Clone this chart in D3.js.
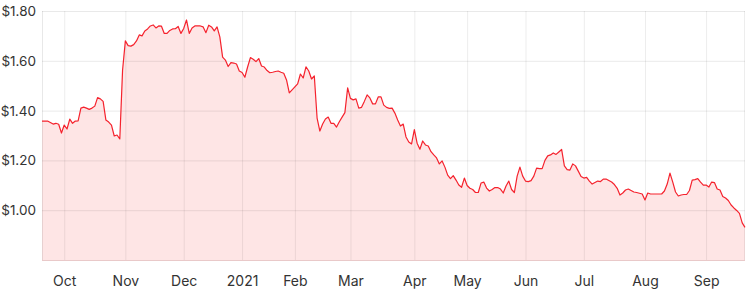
<!DOCTYPE html>
<html>
<head>
<meta charset="utf-8">
<script src="https://cdn.jsdelivr.net/npm/d3@7"></script>
<style>
  html, body { margin: 0; padding: 0; background: #fff; }
  svg { display: block; }
  text { font-family: Inter, "Open Sans", sans-serif; }
</style>
</head>
<body>
<svg id="chart" width="751" height="291"></svg>
<script>
// Daily closing prices (one per trading day, Sep 2020 – Sep 2021)
const prices = [
  1.358,1.358,1.358,1.352,1.346,1.349,1.345,1.310,1.342,1.326,
  1.366,1.349,1.358,1.359,1.410,1.414,1.410,1.405,1.410,1.418,
  1.452,1.447,1.437,1.362,1.354,1.342,1.298,1.302,1.286,1.563,
  1.680,1.661,1.659,1.665,1.680,1.704,1.700,1.720,1.728,1.740,
  1.744,1.732,1.740,1.739,1.710,1.710,1.722,1.728,1.729,1.738,
  1.710,1.730,1.764,1.710,1.732,1.740,1.740,1.740,1.736,1.713,
  1.743,1.736,1.720,1.736,1.696,1.615,1.603,1.577,1.593,1.591,
  1.587,1.559,1.553,1.534,1.575,1.613,1.606,1.597,1.609,1.579,
  1.575,1.561,1.552,1.554,1.557,1.559,1.554,1.550,1.523,1.471,
  1.483,1.495,1.507,1.547,1.531,1.576,1.559,1.527,1.539,1.370,
  1.318,1.346,1.366,1.374,1.349,1.349,1.334,1.355,1.374,1.392,
  1.491,1.449,1.443,1.447,1.410,1.413,1.437,1.463,1.451,1.427,
  1.427,1.455,1.455,1.422,1.413,1.409,1.410,1.390,1.362,1.338,
  1.346,1.294,1.274,1.266,1.324,1.269,1.245,1.278,1.262,1.258,
  1.235,1.222,1.210,1.186,1.198,1.173,1.141,1.127,1.139,1.121,
  1.101,1.092,1.129,1.099,1.088,1.083,1.071,1.071,1.109,1.113,
  1.089,1.077,1.083,1.091,1.091,1.085,1.069,1.097,1.117,1.083,
  1.071,1.137,1.173,1.137,1.117,1.115,1.119,1.137,1.169,1.167,
  1.167,1.200,1.218,1.222,1.230,1.224,1.234,1.244,1.178,1.163,
  1.161,1.186,1.178,1.157,1.135,1.129,1.132,1.117,1.105,1.111,
  1.117,1.115,1.125,1.125,1.119,1.113,1.103,1.088,1.061,1.069,
  1.081,1.085,1.079,1.073,1.071,1.068,1.065,1.041,1.069,1.065,
  1.065,1.065,1.065,1.065,1.077,1.105,1.149,1.113,1.073,1.057,
  1.061,1.063,1.063,1.079,1.121,1.123,1.127,1.113,1.101,1.101,
  1.093,1.113,1.111,1.085,1.081,1.055,1.049,1.039,1.021,1.009,
  0.999,0.987,0.949,0.931
];

// Month tick labels and the trading-day index where each month starts
const monthLabels = ["Oct","Nov","Dec","2021","Feb","Mar","Apr","May","Jun","Jul","Aug","Sep"];
const monthStartIdx = [8, 30, 51, 72, 91, 111, 134, 153, 174, 195, 217, 239];

// Price axis ticks
const priceTicks = [1.0, 1.2, 1.4, 1.6, 1.8];
const priceDomain = [0.8, 1.8];

const svg = d3.select("#chart");
const mLeft = 42, mRight = 745, mTop = 11, mBottom = 260;

const x = d3.scaleLinear().domain([0, prices.length - 1]).range([mLeft, mRight]);
const y = d3.scaleLinear().domain(priceDomain).range([mBottom, mTop]);

const data = prices.map((v, i) => ({ i, v }));

// Area fill
svg.append("path")
  .datum(data)
  .attr("fill", "#fee5e5")
  .attr("d", d3.area().x(d => x(d.i)).y0(y(priceDomain[0])).y1(d => y(d.v)));

// Horizontal gridlines
const yAxis = d3.axisLeft(y).tickValues(priceTicks).tickSize(-(mRight - mLeft))
  .tickFormat(d => "$" + d.toFixed(2));
const gy = svg.append("g").attr("transform", `translate(${mLeft},0)`).call(yAxis);
gy.select(".domain").remove();
gy.selectAll(".tick line").attr("stroke", "rgba(0,0,0,0.085)").attr("stroke-width", 1);
gy.selectAll(".tick text")
  .attr("x", -6).attr("dy", "0.34em")
  .attr("fill", "#333").style("font-size", "13.5px");

// Vertical gridlines + month labels
const xAxis = d3.axisBottom(x).tickValues(monthStartIdx).tickSize(-(mBottom - mTop))
  .tickFormat((d, k) => monthLabels[k]);
const gx = svg.append("g").attr("transform", `translate(0,${mBottom})`).call(xAxis);
gx.select(".domain").remove();
gx.selectAll(".tick line").attr("stroke", "rgba(0,0,0,0.075)").attr("stroke-width", 1);
gx.selectAll(".tick text")
  .attr("y", 16).attr("dy", "0.71em")
  .attr("fill", "#333").style("font-size", "14px");

// Frame lines: left, right, bottom
svg.append("line").attr("x1", mLeft + 0.5).attr("x2", mLeft + 0.5).attr("y1", mTop).attr("y2", mBottom)
  .attr("stroke", "rgba(0,0,0,0.09)");
svg.append("line").attr("x1", mRight - 0.5).attr("x2", mRight - 0.5).attr("y1", mTop).attr("y2", mBottom)
  .attr("stroke", "rgba(0,0,0,0.07)");
svg.append("line").attr("x1", mLeft).attr("x2", mRight).attr("y1", mBottom + 0.5).attr("y2", mBottom + 0.5)
  .attr("stroke", "#e9c9c9");

// Price line
svg.append("path")
  .datum(data)
  .attr("fill", "none")
  .attr("stroke", "#f5222d")
  .attr("stroke-width", 1.2)
  .attr("stroke-linejoin", "round")
  .attr("d", d3.line().x(d => x(d.i)).y(d => y(d.v)));
</script>
</body>
</html>
